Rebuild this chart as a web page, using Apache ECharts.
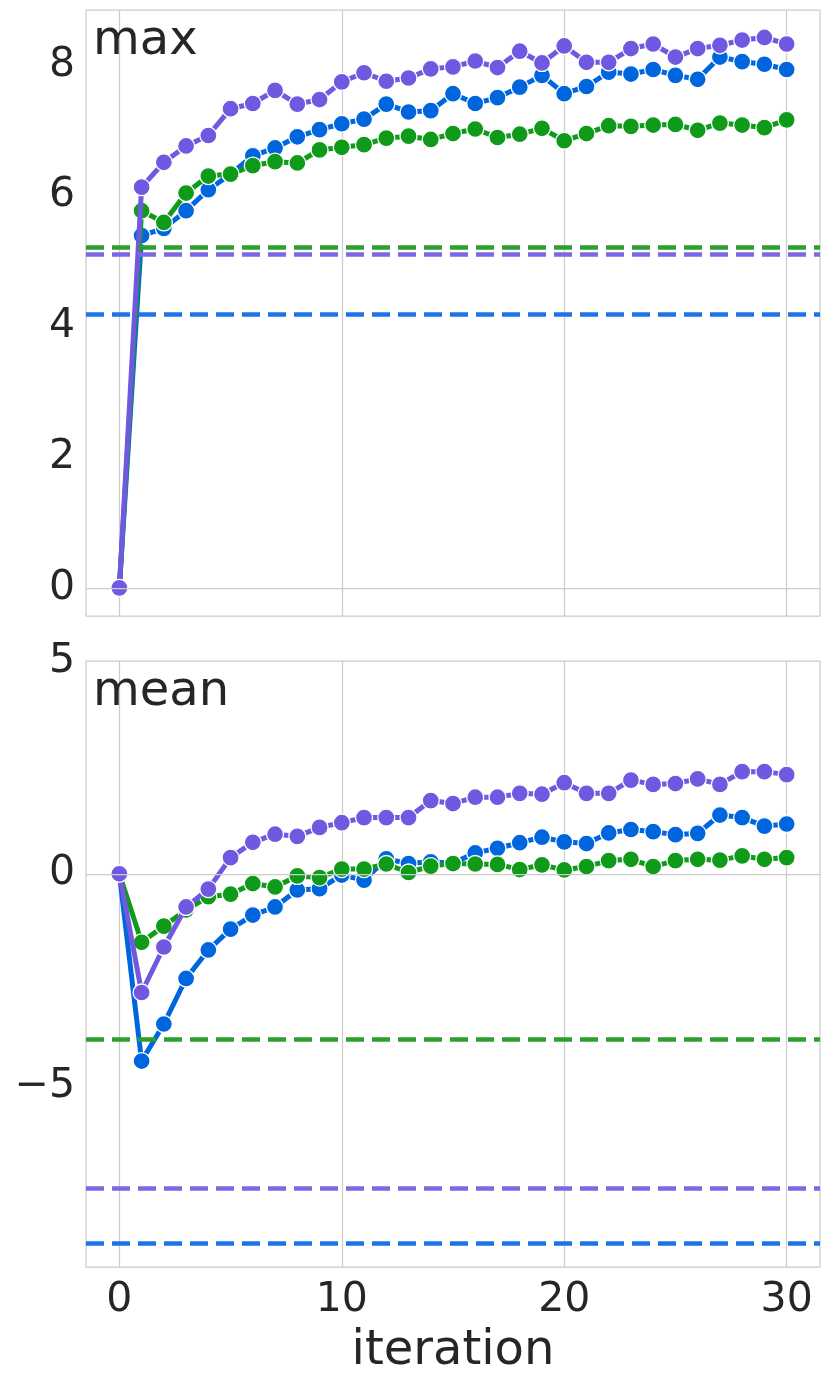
<!DOCTYPE html>
<html><head><meta charset="utf-8">
<script src="https://cdn.jsdelivr.net/npm/echarts@6/dist/echarts.min.js"></script>
<style>html,body{margin:0;padding:0;background:#fff}#c{width:831px;height:1384px}</style>
</head><body><div id="c"></div>
<script>
const iterations = [0,1,2,3,4,5,6,7,8,9,10,11,12,13,14,15,16,17,18,19,20,21,22,23,24,25,26,27,28,29,30];

const maxBlue   = [0,5.39,5.50,5.77,6.09,6.33,6.61,6.73,6.90,7.01,7.10,7.17,7.40,7.28,7.30,7.56,7.41,7.50,7.66,7.84,7.56,7.67,7.89,7.86,7.93,7.84,7.78,8.12,8.05,8.01,7.93];
const maxGreen  = [0,5.77,5.59,6.04,6.30,6.33,6.46,6.52,6.50,6.70,6.74,6.78,6.88,6.91,6.86,6.95,7.02,6.89,6.94,7.03,6.84,6.95,7.07,7.06,7.08,7.09,7.00,7.11,7.08,7.04,7.16];
const maxPurple = [0,6.13,6.51,6.76,6.92,7.33,7.41,7.61,7.40,7.47,7.74,7.88,7.75,7.80,7.94,7.97,8.06,7.96,8.21,8.03,8.29,8.04,8.04,8.25,8.32,8.12,8.25,8.30,8.38,8.42,8.32];

const meanBlue   = [0,-4.40,-3.53,-2.46,-1.79,-1.30,-0.97,-0.78,-0.38,-0.35,-0.03,-0.15,0.35,0.24,0.28,0.25,0.49,0.60,0.73,0.86,0.75,0.71,0.96,1.04,0.99,0.92,0.95,1.38,1.32,1.12,1.17];
const meanGreen  = [0,-1.61,-1.23,-0.85,-0.54,-0.48,-0.23,-0.31,-0.05,-0.09,0.11,0.11,0.23,0.03,0.18,0.24,0.23,0.22,0.10,0.21,0.09,0.17,0.31,0.34,0.17,0.31,0.34,0.32,0.42,0.34,0.38];
const meanPurple = [0,-2.79,-1.72,-0.78,-0.36,0.38,0.74,0.93,0.88,1.09,1.20,1.32,1.32,1.32,1.72,1.65,1.80,1.80,1.89,1.87,2.14,1.89,1.89,2.20,2.10,2.12,2.23,2.10,2.40,2.40,2.33];

// reference (dashed) levels: blue, green, purple
const refMax  = [4.18, 5.21, 5.11];
const refMean = [-8.69, -3.88, -7.38];

const xTicks = [0,10,20,30];
const yTicksMax = [0,2,4,6,8];
const yTicksMean = [-5,0,5];
const panelNames = ['max','mean'];
const xName = 'iteration';

const lineColors = ['#0066dd','#109a1a','#7058e0'];
const dashColors = ['#1c74e6','#2ca02c','#7c68e4'];

const FONT = 'DejaVu Sans';
const TXT = '#262626';
const GRIDC = '#cccccc';

const panels = [
  {series:[maxBlue,maxGreen,maxPurple], refs:refMax, yTicks:yTicksMax, ymin:-0.43, ymax:8.84},
  {series:[meanBlue,meanGreen,meanPurple], refs:refMean, yTicks:yTicksMean, ymin:-9.24, ymax:5.0}
];
const gridTops = [10, 661];

const option = {
  animation:false,
  backgroundColor:'#ffffff',
  textStyle:{fontFamily:FONT},
  title: panelNames.map((t,p)=>({
    text:t, left:93, top:gridTops[p]+8, padding:0,
    textStyle:{fontSize:48, fontWeight:'normal', color:TXT, fontFamily:FONT}
  })),
  grid: gridTops.map(t=>({
    left:86, top:t, width:734, height:606, show:true,
    borderColor:GRIDC, borderWidth:1.25, backgroundColor:'transparent',
    containLabel:false, outerBoundsMode:'none'
  })),
  xAxis: panels.map((pn,p)=>({
    gridIndex:p, type:'value', min:-1.5, max:31.5,
    axisLine:{show:false},
    axisTick:{show:false, customValues:xTicks},
    axisLabel:{show:p===1, customValues:xTicks, fontSize:41, color:TXT, margin:13, fontFamily:FONT},
    splitLine:{show:true, lineStyle:{color:GRIDC, width:1.25}},
    name: p===1 ? xName : '',
    nameLocation:'middle', nameGap:61,
    nameTextStyle:{fontSize:48, color:TXT, fontFamily:FONT}
  })),
  yAxis: panels.map((pn,p)=>({
    gridIndex:p, type:'value', min:pn.ymin, max:pn.ymax,
    axisLine:{show:false},
    axisTick:{show:false, customValues:pn.yTicks},
    axisLabel:{show:true, customValues:pn.yTicks, fontSize:41, color:TXT, margin:11, fontFamily:FONT,
      padding:[6,0,0,0],
      formatter:v=>(v<0?'\u2212'+Math.abs(v):String(v))},
    splitLine:{show:false}
  })),
  series: []
};

panels.forEach((pn,p)=>{
  // helper series holding the reference lines, drawn beneath the grid lines
  option.series.push({
    type:'line', xAxisIndex:p, yAxisIndex:p, data:[], z:-1, silent:true,
    markLine:{
      silent:true, symbol:['none','none'], label:{show:false},
      emphasis:{disabled:true},
      data: pn.refs.map((r,k)=>({yAxis:r, lineStyle:{type:[18,8], width:4.5, color:dashColors[k]}}))
        .concat([{yAxis:0, lineStyle:{color:GRIDC, type:'solid', width:1.25}}])
    }
  });
  pn.series.forEach((vals,k)=>{
    option.series.push({
      type:'line', xAxisIndex:p, yAxisIndex:p,
      data: iterations.map((x,i)=>[x, vals[i]]),
      symbol:'circle', symbolSize:17, showAllSymbol:true,
      lineStyle:{width:5, color:lineColors[k]},
      itemStyle:{color:lineColors[k], borderColor:'#ffffff', borderWidth:1.3},
      emphasis:{disabled:true},
      z:2+k
    });
  });
});

const chart = echarts.init(document.getElementById('c'), null, {renderer:'canvas'});
chart.setOption(option);
</script>
</body></html>
